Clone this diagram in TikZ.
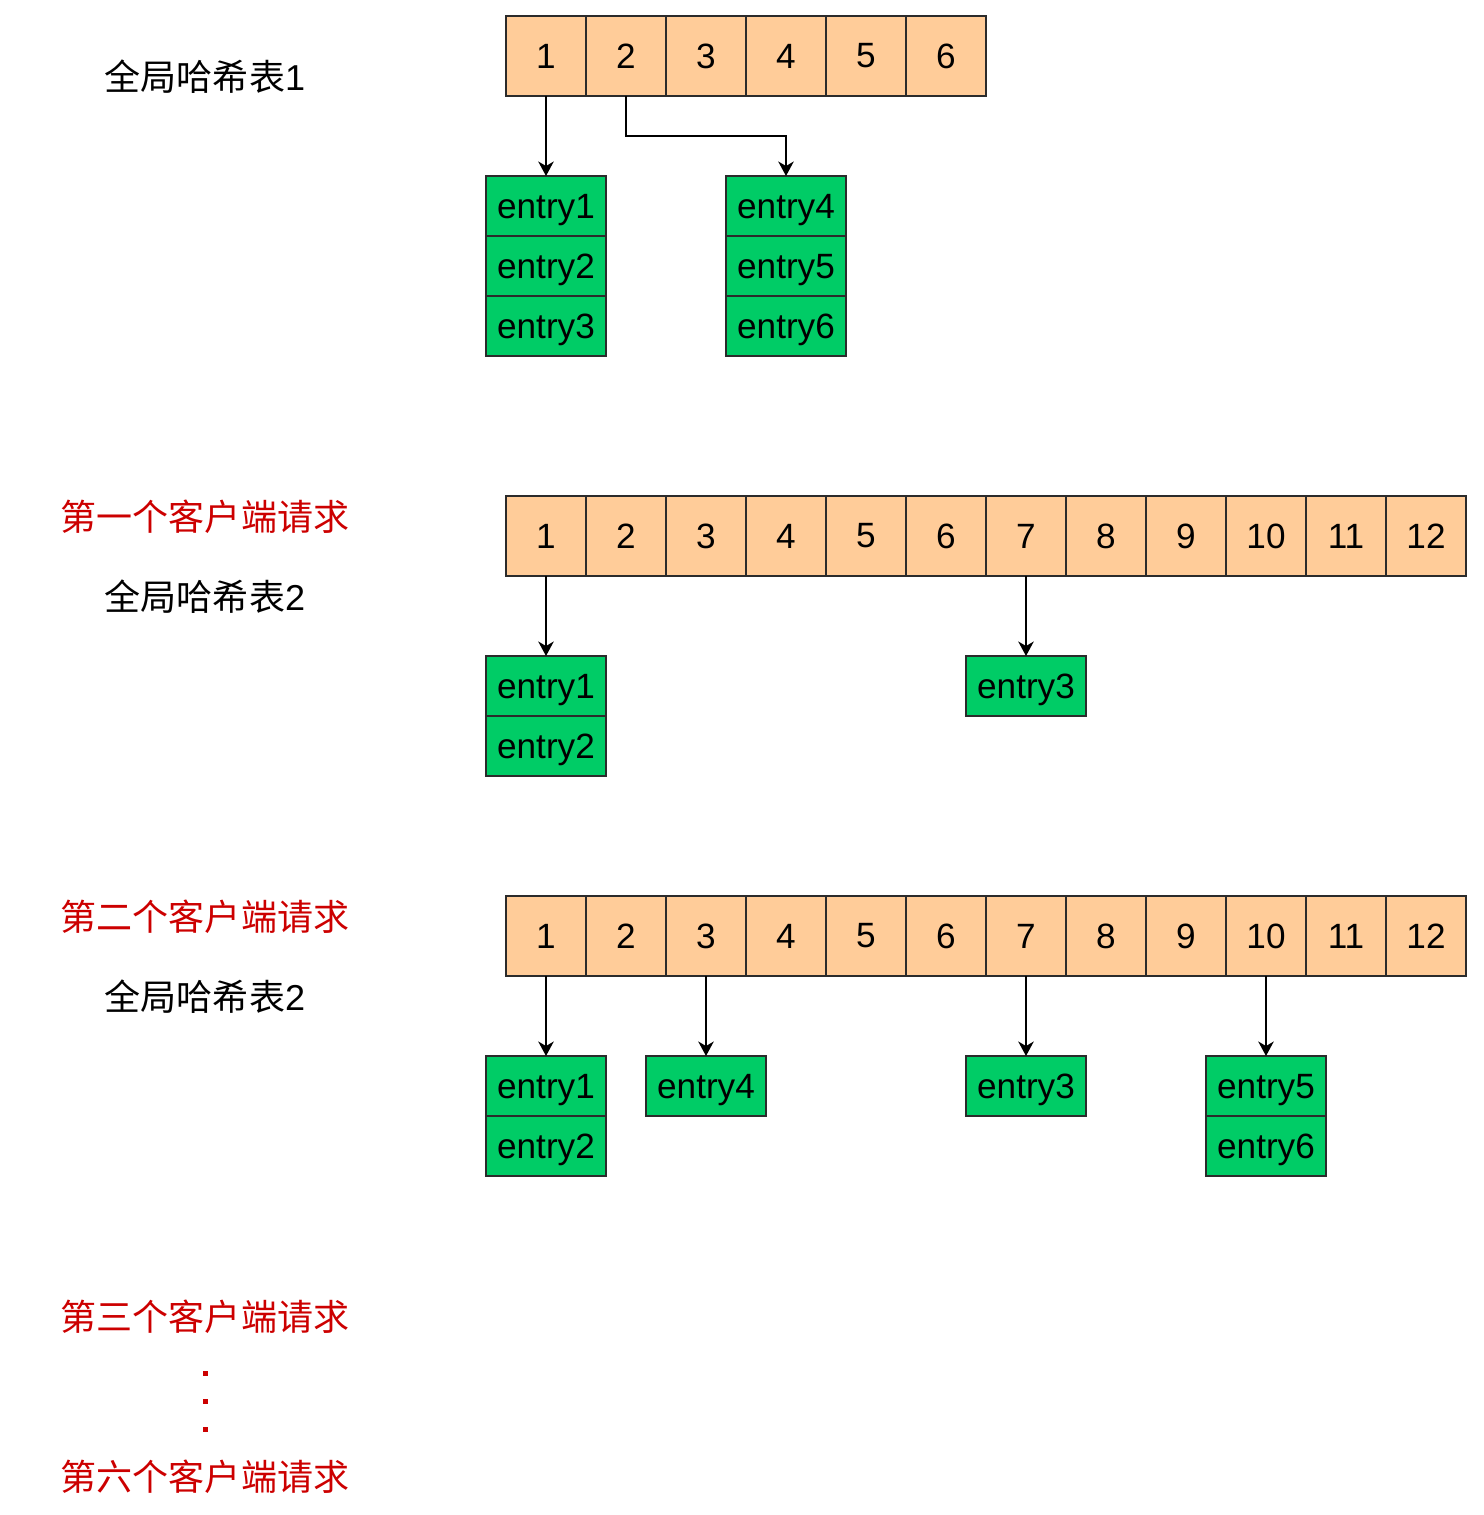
\documentclass[tikz,border=0pt]{standalone}
\usepackage{fontspec}
\setmainfont{Liberation Sans}
\newfontfamily\cjk{Noto Sans CJK SC}
\usetikzlibrary{positioning,arrows.meta}
\definecolor{cellfill}{HTML}{FFCC99}
\definecolor{entryfill}{HTML}{00CC66}
\definecolor{edgegray}{HTML}{2B2B2B}
\definecolor{reqred}{HTML}{CC0000}

\begin{document}
\begin{tikzpicture}[x=0.02cm,y=-0.02cm,
  >={Stealth[length=2.9mm,width=3.1mm,inset=0.9mm]},
  cell/.style={rectangle,draw=edgegray,line width=1pt,fill=cellfill,minimum width=1.6cm,
               minimum height=1.6cm,inner sep=0pt,outer sep=0pt,font=\fontsize{20}{24}\selectfont},
  entry/.style={rectangle,draw=edgegray,line width=1pt,fill=entryfill,minimum width=2.4cm,
                minimum height=1.2cm,inner sep=0pt,outer sep=0pt,text depth=0pt,
                font=\fontsize{20}{24}\selectfont},
  title/.style={font=\fontsize{20.5}{24}\selectfont},
  req/.style={title,text=reqred},
  dotmark/.style={rectangle,fill=reqred,minimum size=0.1cm,inner sep=0pt},
  link/.style={->,line width=0.9pt}
]
  \useasboundingbox (0,0) rectangle (1484,1515);

  % ---------- table 1 (6 slots) ----------
  \node[title] (t1) at (205,77) {{\cjk 全局哈希表}1};
  \foreach \i in {1,...,6}
    \node[cell] (ta\i) at ({546+80*(\i-1)},56) {\i};

  \node[entry] (ae1) at (546,206) {entry1};
  \node[entry,below=0pt of ae1] (ae2) {entry2};
  \node[entry,below=0pt of ae2] (ae3) {entry3};
  \node[entry] (ae4) at (786,206) {entry4};
  \node[entry,below=0pt of ae4] (ae5) {entry5};
  \node[entry,below=0pt of ae5] (ae6) {entry6};

  \draw[link] (ta1) -- (ae1);
  \draw[link] (ta2.south) -- ++(0,40) -| (ae4.north);

  % ---------- first request: table 2 (12 slots) ----------
  \node[req] (r1) at (205,517) {\cjk 第一个客户端请求};
  \node[title] (t2) at (205,597) {{\cjk 全局哈希表}2};
  \foreach \i in {1,...,12}
    \node[cell] (tb\i) at ({546+80*(\i-1)},536) {\i};

  \node[entry] (be1) at (546,686) {entry1};
  \node[entry,below=0pt of be1] (be2) {entry2};
  \node[entry] (be3) at (1026,686) {entry3};

  \draw[link] (tb1) -- (be1);
  \draw[link] (tb7) -- (be3);

  % ---------- second request ----------
  \node[req] (r2) at (205,917) {\cjk 第二个客户端请求};
  \node[title] (t3) at (205,997) {{\cjk 全局哈希表}2};
  \foreach \i in {1,...,12}
    \node[cell] (tc\i) at ({546+80*(\i-1)},936) {\i};

  \node[entry] (ce1) at (546,1086) {entry1};
  \node[entry,below=0pt of ce1] (ce2) {entry2};
  \node[entry] (ce4) at (706,1086) {entry4};
  \node[entry] (ce3) at (1026,1086) {entry3};
  \node[entry] (ce5) at (1266,1086) {entry5};
  \node[entry,below=0pt of ce5] (ce6) {entry6};

  \draw[link] (tc1) -- (ce1);
  \draw[link] (tc3) -- (ce4);
  \draw[link] (tc7) -- (ce3);
  \draw[link] (tc10) -- (ce5);

  % ---------- later requests ----------
  \node[req] (r3) at (205,1317) {\cjk 第三个客户端请求};
  \foreach \y [count=\k] in {1373,1401,1429}
    \node[dotmark] (dot\k) at (205,\y) {};
  \node[req] (r6) at (205,1477) {\cjk 第六个客户端请求};
\end{tikzpicture}
\end{document}
